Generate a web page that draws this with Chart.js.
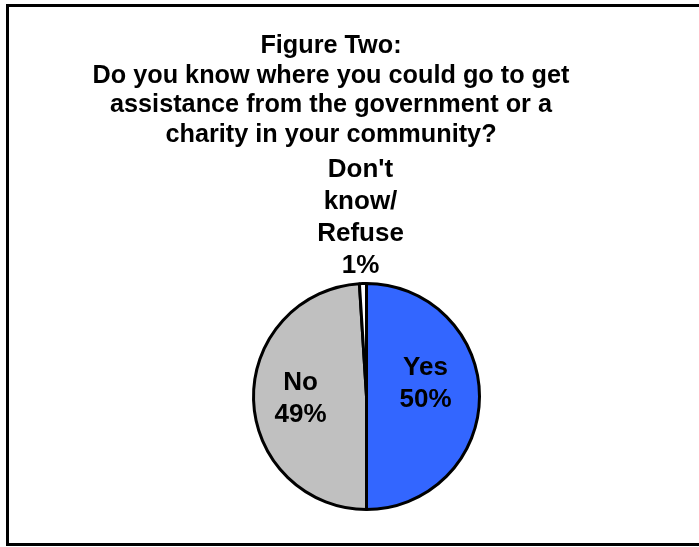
<!DOCTYPE html>
<html>
<head>
<meta charset="utf-8">
<title>Figure Two</title>
<script src="https://cdn.jsdelivr.net/npm/chart.js@4/dist/chart.umd.min.js"></script>
<style>
  body { margin: 0; background: #ffffff; }
  #wrap { width: 699px; height: 547px; }
</style>
</head>
<body>
<div id="wrap"><canvas id="my-chart" width="699" height="547"></canvas></div>
<script>
'use strict';

// ******** DATA **************
let answers = ['Yes', 'No', 'Don\'t know/ Refuse'];
let percents = [50, 49, 1];
let sliceColors = ['#3366ff', '#c0c0c0', '#ffffff'];

let titleLines = [
  'Figure Two:',
  'Do you know where you could go to get',
  'assistance from the government or a',
  'charity in your community?'
];

// label text split into lines, one list per slice
let labelLines = [
  ['Yes', '50%'],
  ['No', '49%'],
  ['Don\'t', 'know/', 'Refuse', '1%']
];

// ******** STYLE **************
let fontFamily = '"Liberation Sans", Arial, sans-serif';
let titleFont = 'bold 25.25px ' + fontFamily;
let labelFont = 'bold 26px ' + fontFamily;

// where each label's first baseline sits, relative to the pie centre
let labelOffsets = [
  { dx: 59, dy: -22 },
  { dx: -66, dy: -7 },
  { dx: -6, dy: -220 }
];
let labelLineHeight = 32;

// draws the outer frame, the title and the slice labels
let decorations = {
  id: 'decorations',
  beforeDraw(chart) {
    let ctx = chart.ctx;
    ctx.save();
    ctx.fillStyle = '#ffffff';
    ctx.fillRect(0, 0, chart.width, chart.height);
    ctx.strokeStyle = '#000000';
    ctx.lineWidth = 3;
    ctx.strokeRect(7.5, 5.5, 700, 539);
    ctx.restore();
  },
  afterDraw(chart) {
    let ctx = chart.ctx;
    ctx.save();
    ctx.fillStyle = '#000000';
    ctx.textAlign = 'center';
    ctx.textBaseline = 'alphabetic';

    ctx.font = titleFont;
    for (let i = 0; i < titleLines.length; i++) {
      ctx.fillText(titleLines[i], 331, 53 + i * 29.7);
    }

    let arcs = chart.getDatasetMeta(0).data;
    ctx.font = labelFont;
    for (let i = 0; i < arcs.length; i++) {
      let cx = arcs[i].x + labelOffsets[i].dx;
      let cy = arcs[i].y + labelOffsets[i].dy;
      for (let j = 0; j < labelLines[i].length; j++) {
        ctx.fillText(labelLines[i][j], cx, cy + j * labelLineHeight);
      }
    }
    ctx.restore();
  }
};

let canvasElem = document.getElementById('my-chart');

new Chart(canvasElem, {
  type: 'pie',
  data: {
    labels: answers,
    datasets: [{
      data: percents,
      backgroundColor: sliceColors,
      borderColor: '#000000',
      borderWidth: 3
    }]
  },
  options: {
    responsive: false,
    animation: false,
    layout: {
      padding: { left: 252, right: 218, top: 282, bottom: 36 }
    },
    plugins: {
      legend: { display: false },
      title: { display: false },
      tooltip: { enabled: false }
    }
  },
  plugins: [decorations]
});
</script>
</body>
</html>
